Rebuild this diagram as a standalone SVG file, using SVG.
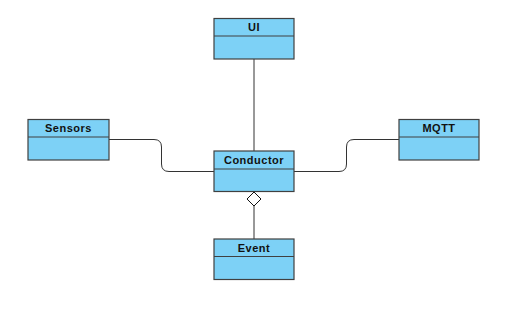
<svg xmlns="http://www.w3.org/2000/svg" width="512" height="313" viewBox="0 0 512 313">
  <style>
    .box { fill: #7DD1F6; stroke: #404040; stroke-width: 1.2; }
    .div { stroke: #404040; stroke-width: 1.2; }
    .lbl { font-family: "Liberation Sans", Arial, sans-serif; font-size: 11px; font-weight: bold; letter-spacing: 0.5px; fill: #111; text-anchor: middle; }
    .edge { fill: none; stroke: #333; stroke-width: 1; }
  </style>
  <rect width="512" height="313" fill="#ffffff"/>

  <g id="connectors">
    <!-- UI to Conductor -->
    <path class="edge" d="M254 59 V151"/>
    <!-- Sensors to Conductor -->
    <path class="edge" d="M109 139.5 H154 Q161.5 139.5 161.5 147 V164 Q161.5 171.5 169 171.5 H214"/>
    <!-- Conductor to MQTT -->
    <path class="edge" d="M294 171.5 H339 Q346.5 171.5 346.5 164 V147 Q346.5 139.5 354 139.5 H399"/>
    <!-- Conductor aggregates Event -->
    <path class="edge" d="M254 206 V239"/>
    <path d="M254 192 L261 199 L254 206 L247 199 Z" fill="#ffffff" stroke="#111" stroke-width="1"/>
  </g>

  <g id="ui">
    <rect class="box" x="214" y="18.5" width="80" height="40.5"/>
    <line class="div" x1="214" y1="36" x2="294" y2="36"/>
    <text class="lbl" x="254" y="31">UI</text>
  </g>

  <g id="sensors">
    <rect class="box" x="28" y="119.5" width="81" height="40.5"/>
    <line class="div" x1="28" y1="137" x2="109" y2="137"/>
    <text class="lbl" x="68.5" y="132">Sensors</text>
  </g>

  <g id="conductor">
    <rect class="box" x="214" y="151" width="80" height="40.5"/>
    <line class="div" x1="214" y1="169" x2="294" y2="169"/>
    <text class="lbl" x="254" y="164">Conductor</text>
  </g>

  <g id="mqtt">
    <rect class="box" x="399" y="119.5" width="80" height="40.5"/>
    <line class="div" x1="399" y1="137" x2="479" y2="137"/>
    <text class="lbl" x="439" y="132">MQTT</text>
  </g>

  <g id="event">
    <rect class="box" x="214" y="239" width="80" height="40.5"/>
    <line class="div" x1="214" y1="256.5" x2="294" y2="256.5"/>
    <text class="lbl" x="254" y="252">Event</text>
  </g>
</svg>
